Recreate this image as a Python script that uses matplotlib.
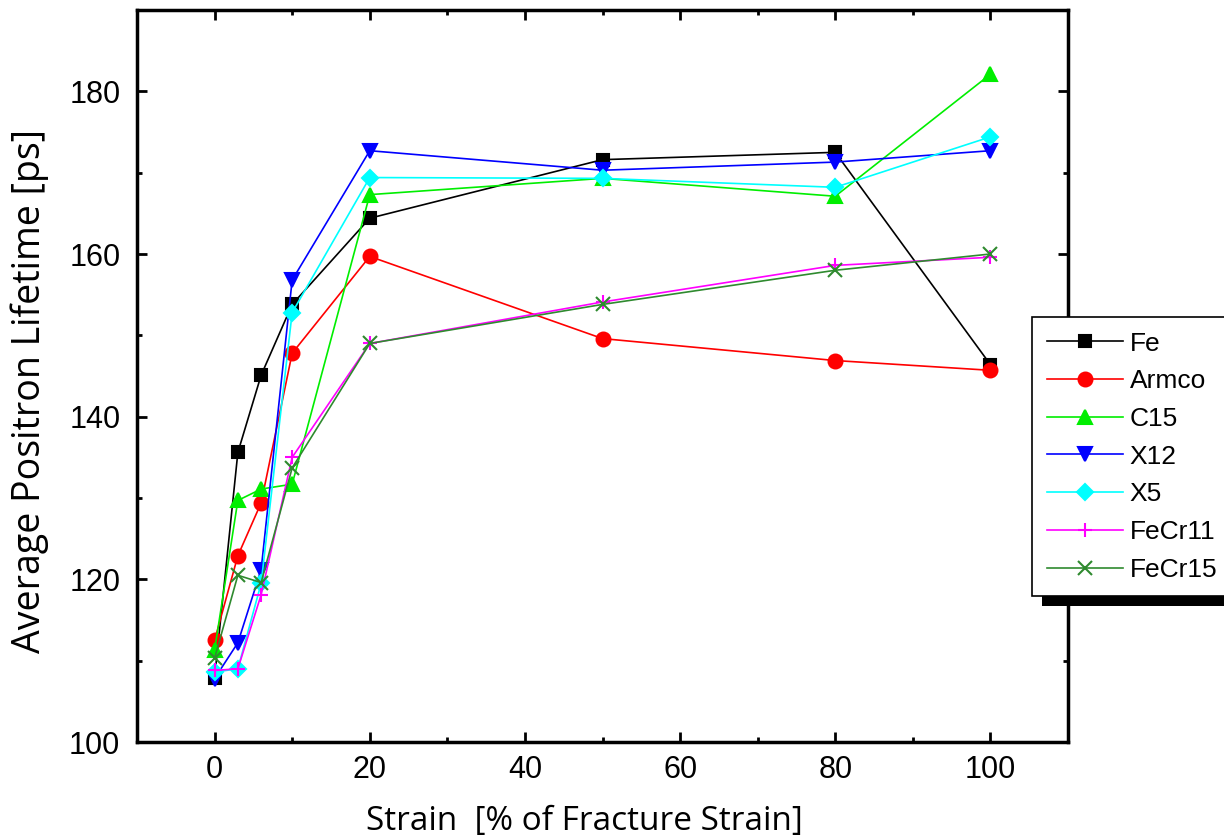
import numpy as np
import matplotlib
matplotlib.use("Agg")
import matplotlib.pyplot as plt
from matplotlib.patches import Rectangle
from matplotlib.ticker import MultipleLocator

strain = [0, 3, 6, 10, 20, 50, 80, 100]

fe = [107.9, 135.6, 145.1, 153.8, 164.4, 171.6, 172.5, 146.4]
armco = [112.5, 122.9, 129.4, 147.8, 159.7, 149.6, 146.9, 145.7]
c15 = [111.3, 129.7, 131.1, 131.7, 167.3, 169.3, 167.1, 182.1]
x12 = [107.8, 112.2, 121.2, 156.8, 172.7, 170.3, 171.3, 172.7]
x5 = [108.6, 109.0, 119.5, 152.8, 169.4, 169.3, 168.2, 174.4]
fecr11 = [108.8, 109.0, 118.1, 135.0, 149.0, 154.1, 158.6, 159.6]
fecr15 = [110.3, 120.5, 119.6, 133.7, 149.0, 153.8, 158.0, 160.0]

names = ["Fe", "Armco", "C15", "X12", "X5", "FeCr11", "FeCr15"]
series = [fe, armco, c15, x12, x5, fecr11, fecr15]
colors = ["black", "#ff0000", "#00ee00", "#0000ff", "#00ffff", "#ff00ff", "#2f8a2f"]
markers = ["s", "o", "^", "v", "D", "+", "x"]
msizes = [9, 10, 10, 10, 8.5, 10, 10]

fig = plt.figure(figsize=(12.24, 8.39), dpi=100)
ax = fig.add_axes([137/1224, 97/839, (1068-137)/1224, (742-10)/839])

for name, vals, c, m, ms in zip(names, series, colors, markers, msizes):
    ax.plot(strain, vals, color=c, marker=m, markersize=ms, lw=1.2,
            markeredgecolor=c, markeredgewidth=1.5, label=name)

ax.set_xlim(-10, 110)
ax.set_ylim(100, 190)
ax.xaxis.set_major_locator(MultipleLocator(20))
ax.xaxis.set_minor_locator(MultipleLocator(10))
ax.yaxis.set_major_locator(MultipleLocator(20))
ax.yaxis.set_minor_locator(MultipleLocator(10))
ax.tick_params(which="both", direction="in", top=True, right=True,
               width=2, labelsize=22)
ax.tick_params(axis="x", pad=9)
ax.tick_params(axis="y", pad=12)
ax.tick_params(which="major", length=7)
ax.tick_params(which="minor", length=3.5)
for lab in ax.get_xticklabels() + ax.get_yticklabels():
    lab.set_fontfamily("Liberation Sans")
for s in ax.spines.values():
    s.set_linewidth(2.5)

ax.set_xlabel("Strain  [% of Fracture Strain]", fontsize=24,
              fontfamily="Open Sans", labelpad=12)
ax.set_ylabel("Average Positron Lifetime [ps]", fontsize=27,
              fontfamily="Open Sans", labelpad=14)
ax.xaxis.set_label_coords(0.481, -0.086)
ax.yaxis.set_label_coords(-0.094, 0.48)

leg = fig.legend(loc="upper left", bbox_to_anchor=(1032/1224, 1 - 317/839),
                 bbox_transform=fig.transFigure, frameon=True, fancybox=False,
                 edgecolor="black", framealpha=1, borderpad=0.55, borderaxespad=0,
                 labelspacing=0.52, handlelength=2.9, handletextpad=0.25,
                 prop={"family": "Liberation Sans", "size": 19})
leg.get_frame().set_linewidth(1.2)
leg.set_zorder(5)

# solid black drop shadow under the legend box
fig.canvas.draw()
bb = leg.get_frame().get_window_extent().transformed(fig.transFigure.inverted())
fig.patches.append(Rectangle((bb.x0 + 10/1224, bb.y0 - 10/839), bb.width, bb.height,
                             transform=fig.transFigure, facecolor="black",
                             edgecolor="none", zorder=4))

fig.savefig("out.png", dpi=100)
